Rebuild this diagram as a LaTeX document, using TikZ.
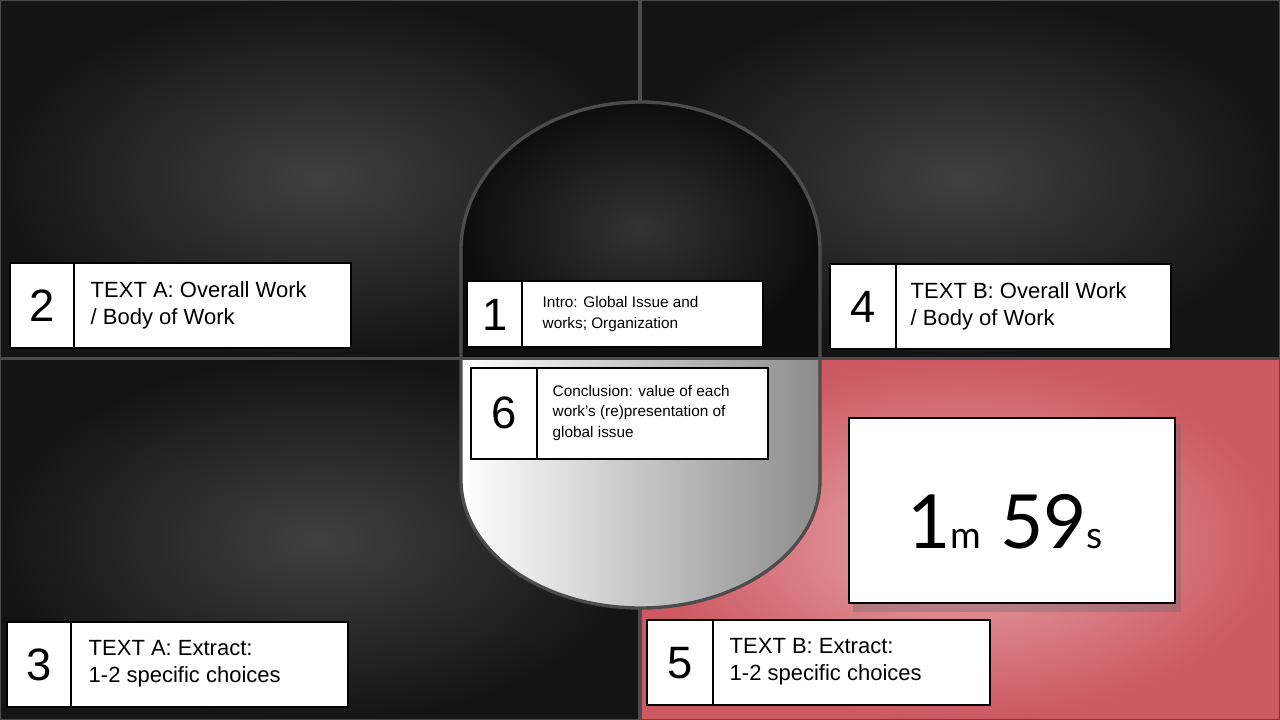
\documentclass[tikz,border=0pt]{standalone}
\usepackage{fontspec}
\setmainfont{Liberation Sans}
\newfontfamily\timerfont{Lato}
\begin{document}
\begin{tikzpicture}[x=0.75pt,y=-0.75pt,
  cell/.style={draw=black,line width=2.2pt,fill=white},
  numtxt/.style={font=\fontsize{34}{34}\selectfont},
  bigtxt/.style={font=\fontsize{16.5}{20}\selectfont,align=left,anchor=west},
  smalltxt/.style={font=\fontsize{11.5}{15.5}\selectfont,align=left,anchor=west},
  sep/.style={draw=gray!60!black,line width=2.5pt}]
\definecolor{pinkin}{HTML}{E9A9AD}
\definecolor{pinkout}{HTML}{CC5862}
\useasboundingbox (0,0) rectangle (1280,720);
\fill[black!80] (0,0) rectangle (1280,720);
% quadrants
\shade[inner color=black!75,outer color=black!92] (0,0) rectangle (638,357);
\shade[inner color=black!75,outer color=black!92] (642,0) rectangle (1280,357);
\shade[inner color=black!75,outer color=black!92] (0,360) rectangle (638,720);
\shade[inner color=pinkin,outer color=pinkout] (642,360) rectangle (1280,720);
% capsule
\def\caps{(461,250) .. controls (461,168) and (541.4,102) .. (640.5,102) .. controls (739.6,102) and (820,168) .. (820,250) -- (820,480) .. controls (820,550.7) and (739.6,608) .. (640.5,608) .. controls (541.4,608) and (461,550.7) .. (461,480) -- cycle}
\begin{scope}
\clip \caps;
\shade[inner color=black!80,outer color=black!95] (461,100) rectangle (820,358);
\shade[left color=white,right color=black!45] (461,358) rectangle (820,610);
\end{scope}
% separators
\draw[sep] (640,0) -- (640,102);
\draw[sep] (640,608) -- (640,720);
\draw[sep] (0,358.5) -- (1280,358.5);
\draw[sep] \caps;
\draw[draw=gray!60!black,line width=1.5pt] (0,0) rectangle (1280,720);
% box 2
\draw[cell] (10,263) rectangle (351,348); \draw[cell] (74,263) -- (74,348);
\node[numtxt] (n2) at (42,306) {2};
\node[bigtxt] (t2) at (86,305) {TEXT A: Overall Work\\/ Body of Work};
% box 1
\draw[cell] (467,281) rectangle (763,347); \draw[cell] (522,281) -- (522,347);
\node[numtxt] (n1) at (495,315) {1};
\node[smalltxt] (t1) at (538,314) {Intro: Global Issue and\\works; Organization};
% box 4
\draw[cell] (830,264) rectangle (1171,349); \draw[cell] (896,264) -- (896,349);
\node[numtxt] (n4) at (863,307) {4};
\node[bigtxt] (t4) at (906,306) {TEXT B: Overall Work\\/ Body of Work};
% box 6
\draw[cell] (471,368) rectangle (768,459); \draw[cell] (537,368) -- (537,459);
\node[numtxt] (n6) at (504,413) {6};
\node[smalltxt] (t6) at (548,413) {Conclusion: value of each\\work’s (re)presentation of\\global issue};
% box 3
\draw[cell] (7,622) rectangle (348,707); \draw[cell] (71,622) -- (71,707);
\node[numtxt] (n3) at (39,665) {3};
\node[bigtxt] (t3) at (84,664) {TEXT A: Extract:\\1-2 specific choices};
% box 5
\draw[cell] (647,620) rectangle (990,705); \draw[cell] (713,620) -- (713,705);
\node[numtxt] (n5) at (680,663) {5};
\node[bigtxt] (t5) at (725,662) {TEXT B: Extract:\\1-2 specific choices};
% timer
\fill[black!60,opacity=0.35] (853,424) rectangle (1181,612);
\draw[cell] (849,418) rectangle (1175,603);
\node (timer) at (1005,522) {\timerfont\fontsize{56}{56}\selectfont 1\fontsize{28}{28}\selectfont m\fontsize{56}{56}\selectfont\ 59\fontsize{28}{28}\selectfont s};
\end{tikzpicture}
\end{document}
